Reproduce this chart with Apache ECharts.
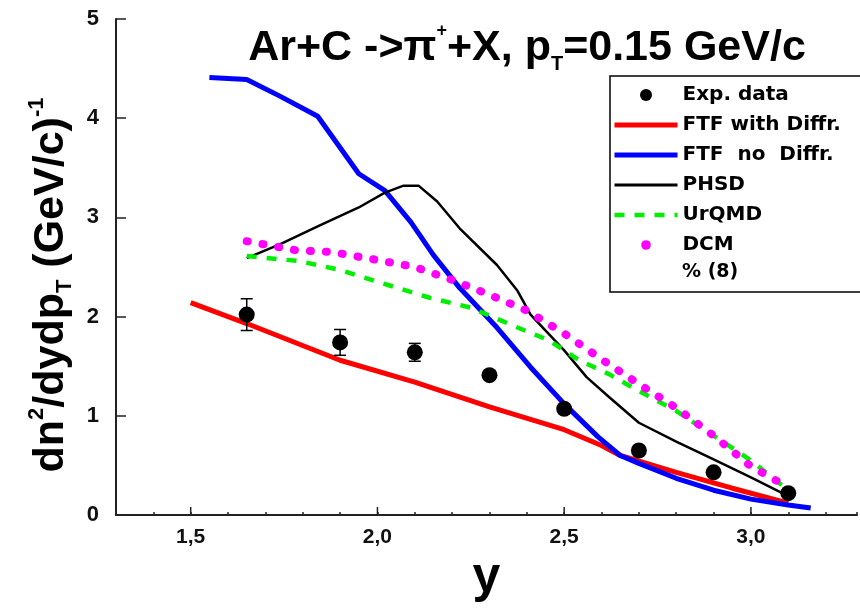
<!DOCTYPE html>
<html>
<head>
<meta charset="utf-8">
<script src="https://cdn.jsdelivr.net/npm/echarts@6/dist/echarts.min.js"></script>
<style>
  html, body { margin: 0; padding: 0; background: #fff; }
  #chart { width: 860px; height: 608px; }
</style>
</head>
<body>
<div id="chart"></div>
<script>
// experimental points: rapidity, value, error
var expX = [1.65, 1.9, 2.1, 2.3, 2.5, 2.7, 2.9, 3.1];
var expY = [2.02, 1.74, 1.64, 1.41, 1.07, 0.65, 0.43, 0.22];
var expErr = [0.16, 0.13, 0.09, 0.04, 0.04, 0.03, 0.03, 0.03];

// model curves [y, value]
var ftfDiffr = [[1.5, 2.14], [1.65, 1.93], [1.9, 1.56], [2.1, 1.34], [2.3, 1.09], [2.5, 0.86],
  [2.6, 0.70], [2.65, 0.60], [2.8, 0.43], [2.95, 0.27], [3.1, 0.12]];
var ftfNoDiffr = [[1.55, 4.41], [1.65, 4.39], [1.74, 4.22], [1.84, 4.02], [1.95, 3.44], [2.02, 3.27],
  [2.09, 2.95], [2.15, 2.62], [2.22, 2.29], [2.32, 1.89], [2.41, 1.49], [2.5, 1.12], [2.59, 0.79],
  [2.65, 0.60], [2.7, 0.52], [2.8, 0.37], [2.9, 0.25], [3.0, 0.16], [3.1, 0.10], [3.16, 0.07]];
var phsd = [[1.65, 2.59], [1.74, 2.73], [1.84, 2.91], [1.95, 3.10], [2.02, 3.25], [2.07, 3.32],
  [2.11, 3.32], [2.16, 3.16], [2.22, 2.89], [2.32, 2.52], [2.375, 2.26], [2.41, 2.02], [2.5, 1.66],
  [2.56, 1.39], [2.62, 1.19], [2.7, 0.93], [2.8, 0.74], [2.9, 0.56], [3.0, 0.38], [3.1, 0.19]];
var urqmd = [[1.65, 2.61], [1.79, 2.56], [1.9, 2.47], [2.01, 2.34], [2.14, 2.19], [2.25, 2.09],
  [2.375, 1.89], [2.46, 1.76], [2.54, 1.56], [2.62, 1.42], [2.7, 1.25], [2.8, 1.05], [2.9, 0.80],
  [3.0, 0.55], [3.05, 0.40], [3.1, 0.25]];
var dcm = [[1.65, 2.76], [1.78, 2.67], [1.88, 2.65], [2.0, 2.57], [2.1, 2.50], [2.2, 2.37],
  [2.3, 2.22], [2.4, 2.06], [2.5, 1.83], [2.6, 1.57], [2.7, 1.32], [2.8, 1.08], [2.9, 0.80],
  [3.0, 0.49], [3.1, 0.28]];

var majorTicks = [1.5, 2.0, 2.5, 3.0];
var legendNames = ['Exp. data', 'FTF with Diffr.', 'FTF  no  Diffr.', 'PHSD', 'UrQMD', 'DCM'];

var font = 'Liberation Sans, Arial, sans-serif';
var legendFont = 'DejaVu Sans, sans-serif';
var myChart = echarts.init(document.getElementById('chart'));

var expData = expX.map(function (x, i) { return [x, expY[i]]; });
var errData = expX.map(function (x, i) { return [x, expY[i] - expErr[i], expY[i] + expErr[i]]; });

var noDot = { opacity: 0 };

var option = {
  animation: false,
  backgroundColor: '#fff',
  title: {
    text: '{m|Ar+C ->π}{sup|+}{m|+X, p}{sub|T}{m|=0.15 GeV/c}',
    left: 522,
    top: 17,
    textAlign: 'center',
    textStyle: {
      rich: {
        m: { fontFamily: font, fontWeight: 'bold', fontSize: 43, color: '#000', lineHeight: 52 },
        sup: { fontFamily: font, fontWeight: 'bold', fontSize: 18, color: '#000', verticalAlign: 'top', lineHeight: 24 },
        sub: { fontFamily: font, fontWeight: 'bold', fontSize: 20, color: '#000', verticalAlign: 'bottom', lineHeight: 24 }
      }
    }
  },
  grid: { left: 116, top: 19, width: 744, bottom: 89, containLabel: false },
  legend: {
    orient: 'vertical',
    left: 612,
    top: 85,
    padding: 0,
    itemWidth: 63,
    itemHeight: 12,
    itemGap: 10,
    selectedMode: false,
    textStyle: { fontFamily: legendFont, fontWeight: 'bold', fontSize: 20, color: '#000', lineHeight: 18 },
    data: [
      { name: legendNames[0], icon: 'circle' },
      { name: legendNames[1], itemStyle: noDot, lineStyle: { color: '#ff0000', width: 5 } },
      { name: legendNames[2], itemStyle: noDot, lineStyle: { color: '#0000ff', width: 5 } },
      { name: legendNames[3], itemStyle: noDot, lineStyle: { color: '#000', width: 3 } },
      { name: legendNames[4], itemStyle: noDot, lineStyle: { color: '#00ee00', width: 4.5, type: [10, 10] } },
      { name: legendNames[5], lineStyle: { opacity: 0 } }
    ]
  },
  graphic: [
    {
      type: 'rect',
      shape: { x: 610, y: 76, width: 270, height: 216 },
      style: { fill: 'none', stroke: '#000', lineWidth: 1.5 },
      z: 10
    },
    {
      type: 'text',
      left: 682,
      top: 263,
      style: { text: '% (8)', font: 'bold 19px ' + legendFont, fill: '#000' },
      z: 10
    }
  ],
  xAxis: {
    type: 'value',
    min: 1.3,
    max: 3.284,
    interval: 0.1,
    name: 'y',
    nameLocation: 'middle',
    nameGap: 38,
    nameTextStyle: { fontFamily: font, fontWeight: 'bold', fontSize: 50, color: '#000' },
    axisLine: { lineStyle: { color: '#222', width: 2 } },
    axisTick: { inside: true, length: 3, lineStyle: { color: '#222', width: 1.5 } },
    splitLine: { show: false },
    axisLabel: {
      margin: 12,
      fontFamily: font,
      fontWeight: 'bold',
      fontSize: 21,
      color: '#111',
      formatter: function (v) {
        if (Math.abs(v * 2 - Math.round(v * 2)) < 1e-6) {
          return v.toFixed(1).replace('.', ',');
        }
        return '';
      }
    }
  },
  yAxis: {
    type: 'value',
    min: 0,
    max: 5,
    interval: 1,
    name: '{m|dn}{sup|2}{m|/dydp}{sub|T}{m| (GeV/c)}{sup|-1}',
    nameLocation: 'middle',
    nameGap: 40,
    nameTextStyle: {
      padding: [0, 36, 0, 0],
      rich: {
        m: { fontFamily: font, fontWeight: 'bold', fontSize: 43, color: '#000', lineHeight: 50 },
        sup: { fontFamily: font, fontWeight: 'bold', fontSize: 22, color: '#000', verticalAlign: 'top', lineHeight: 24 },
        sub: { fontFamily: font, fontWeight: 'bold', fontSize: 22, color: '#000', verticalAlign: 'bottom', lineHeight: 24 }
      }
    },
    axisLine: { lineStyle: { color: '#222', width: 2 } },
    axisTick: { inside: true, length: 10, lineStyle: { color: '#222', width: 1.5 } },
    splitLine: { show: false },
    axisLabel: { margin: 17, fontFamily: font, fontWeight: 'bold', fontSize: 22, color: '#111' }
  },
  series: [
    {
      name: legendNames[1],
      type: 'line',
      data: ftfDiffr,
      symbol: 'none',
      lineStyle: { color: '#ff0000', width: 5 },
      itemStyle: { color: '#ff0000' },
      z: 3
    },
    {
      name: legendNames[2],
      type: 'line',
      data: ftfNoDiffr,
      symbol: 'none',
      lineStyle: { color: '#0000ff', width: 5 },
      itemStyle: { color: '#0000ff' },
      z: 4
    },
    {
      name: legendNames[3],
      type: 'line',
      data: phsd,
      symbol: 'none',
      lineStyle: { color: '#000', width: 2.5 },
      itemStyle: { color: '#000' },
      z: 5
    },
    {
      name: legendNames[4],
      type: 'line',
      data: urqmd,
      symbol: 'none',
      lineStyle: { color: '#00ee00', width: 4.5, type: [10, 10] },
      itemStyle: { color: '#00ee00' },
      z: 5
    },
    {
      name: legendNames[5],
      type: 'line',
      data: dcm,
      symbol: 'circle',
      showSymbol: false,
      lineStyle: { color: '#ff00ff', width: 8, type: [1, 15], cap: 'round' },
      itemStyle: { color: '#ff00ff' },
      z: 6
    },
    {
      type: 'custom',
      name: 'err',
      data: errData,
      z: 7,
      silent: true,
      renderItem: function (params, api) {
        var lo = api.coord([api.value(0), api.value(1)]);
        var hi = api.coord([api.value(0), api.value(2)]);
        var cap = 6;
        var st = { stroke: '#000', lineWidth: 1.5 };
        return {
          type: 'group',
          children: [
            { type: 'line', shape: { x1: lo[0], y1: lo[1], x2: hi[0], y2: hi[1] }, style: st },
            { type: 'line', shape: { x1: lo[0] - cap, y1: lo[1], x2: lo[0] + cap, y2: lo[1] }, style: st },
            { type: 'line', shape: { x1: hi[0] - cap, y1: hi[1], x2: hi[0] + cap, y2: hi[1] }, style: st }
          ]
        };
      }
    },
    {
      name: legendNames[0],
      type: 'scatter',
      data: expData,
      symbol: 'circle',
      symbolSize: 16,
      itemStyle: { color: '#000', opacity: 1 },
      z: 8
    },
    {
      // major ticks on the x axis
      type: 'custom',
      name: 'majorTicks',
      data: majorTicks,
      silent: true,
      z: 9,
      renderItem: function (params, api) {
        var p = api.coord([api.value(0), 0]);
        return {
          type: 'line',
          shape: { x1: p[0], y1: p[1], x2: p[0], y2: p[1] - 8 },
          style: { stroke: '#222', lineWidth: 1.5 }
        };
      }
    }
  ]
};

myChart.setOption(option);
</script>
</body>
</html>
